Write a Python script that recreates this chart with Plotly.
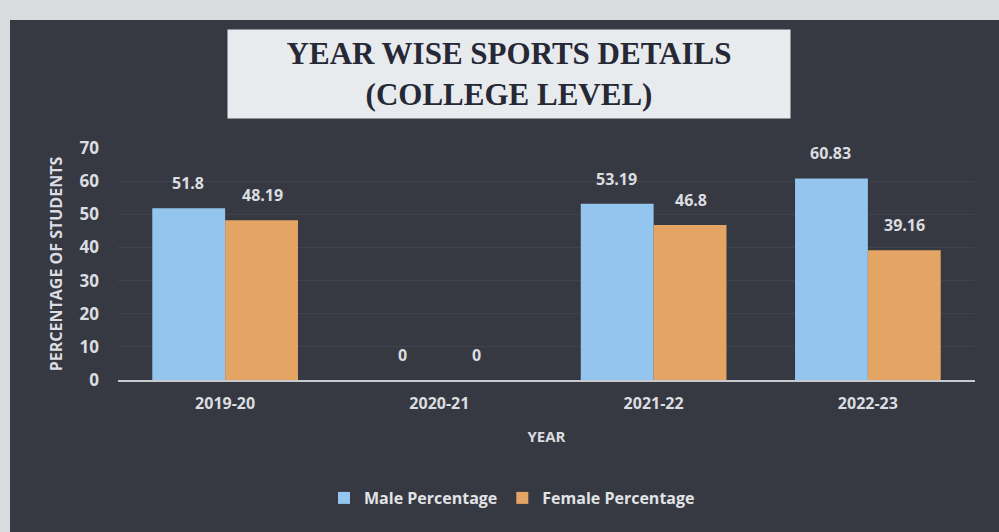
import plotly.graph_objects as go

years = ["2019-20", "2020-21", "2021-22", "2022-23"]
male = [51.8, 0, 53.19, 60.83]
female = [48.19, 0, 46.8, 39.16]
male_text = ["51.8", "0", "53.19", "60.83"]
female_text = ["48.19", "0", "46.8", "39.16"]

W, H = 999, 532
txt = "#dcdde0"
label_font = dict(family="Open Sans", size=16, color=txt)

fig = go.Figure()
fig.add_bar(x=years, y=male, name="<b>Male Percentage</b>",
            marker=dict(color="#93c5ee", line=dict(width=0)))
fig.add_bar(x=years, y=female, name="<b>Female Percentage</b>",
            marker=dict(color="#e3a464", line=dict(width=0)))

# value labels above each bar
for y, m, f, mt, ft in zip(years, male, female, male_text, female_text):
    fig.add_annotation(x=y, y=m, text="<b>" + mt + "</b>", showarrow=False,
                       xshift=-37, yshift=25, font=label_font)
    fig.add_annotation(x=y, y=f, text="<b>" + ft + "</b>", showarrow=False,
                       xshift=37, yshift=25, font=label_font)

# dark panel behind the chart
fig.add_shape(type="rect", xref="paper", yref="paper",
              x0=-108 / 857, x1=1.03, y0=-152 / 232, y1=(512 - 152) / 232,
              fillcolor="#363942", line=dict(width=0), layer="below")

# title box
fig.add_annotation(xref="paper", yref="paper", x=(509 - 118) / 857, y=(380 - 74) / 232,
                   yanchor="middle", xanchor="center", showarrow=False,
                   text="<b>YEAR WISE SPORTS DETAILS<br>(COLLEGE LEVEL)</b>",
                   font=dict(family="Liberation Serif", size=31, color="#262836"),
                   bgcolor="#e8ebee", borderpad=4, width=554, height=80)

fig.update_layout(
    width=W, height=H,
    paper_bgcolor="#d9dbdc", plot_bgcolor="rgba(0,0,0,0)",
    margin=dict(l=118, r=24, t=148, b=152),
    barmode="group", bargap=0.32, bargroupgap=0,
    showlegend=True,
    legend=dict(orientation="h", x=(512 - 118) / 857, xanchor="center",
                y=-(498 - 380) / 232, yanchor="middle",
                font=dict(family="Open Sans", size=16, color="#e2e3e6"),
                bgcolor="rgba(0,0,0,0)", itemwidth=30),
    xaxis=dict(showline=True, linecolor="#c8cacd", linewidth=2,
               tickfont=dict(family="Open Sans", size=16, color=txt),
               ticks="", ticklabelstandoff=8,
               title=dict(text="<b>YEAR</b>", standoff=18,
                          font=dict(family="Open Sans", size=15, color=txt))),
    yaxis=dict(range=[0, 70], dtick=10, showgrid=True, gridcolor="rgba(255,255,255,0.05)",
               zeroline=False, showline=False,
               tickfont=dict(family="Open Sans", size=17, color=txt),
               ticklabelstandoff=18,
               title=dict(text="<b>PERCENTAGE OF STUDENTS</b>", standoff=12,
                          font=dict(family="Open Sans", size=16, color=txt))),
)
fig.update_xaxes(tickprefix="<b>", ticksuffix="</b>")
fig.update_yaxes(tickprefix="<b>", ticksuffix="</b>")

fig.write_html("out.html", config={"displayModeBar": False},
               post_script="document.body.style.margin='0';document.body.style.background='#d9dbdc';")
